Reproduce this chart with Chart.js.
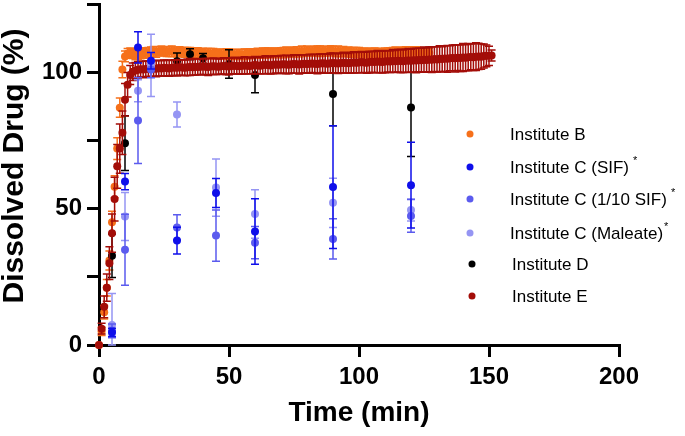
<!DOCTYPE html>
<html>
<head>
<meta charset="utf-8">
<script src="https://cdn.jsdelivr.net/npm/chart.js@4.4.1/dist/chart.umd.min.js"></script>
<style>
  html, body { margin: 0; padding: 0; background: #fff; }
  #wrap { width: 685px; height: 436px; }
</style>
</head>
<body>
<div id="wrap"><canvas id="chart" width="685" height="436"></canvas></div>
<script>
// Institute B - sampled every minute
const timeB = [
  0,1,2,3,4,5,6,7,8,9,10,11,12,13,14,15,16,17,18,19,
  20,21,22,23,24,25,26,27,28,29,30,31,32,33,34,35,36,37,38,39,
  40,41,42,43,44,45,46,47,48,49,50,51,52,53,54,55,56,57,58,59,
  60,61,62,63,64,65,66,67,68,69,70,71,72,73,74,75,76,77,78,79,
  80,81,82,83,84,85,86,87,88,89,90,91,92,93,94,95,96,97,98,99,
  100,101,102,103,104,105,106,107,108,109,110,111,112,113,114,115,116,117,118,119,
  120,121,122,123,124,125,126,127
];
const instB = [
  0,5,12,21,31,45,58,72,87,101,
  105.8,106.9,107.2,106.8,106.5,106.4,106.6,106.9,107.1,107.3,
  107.5,107.6,107.4,107.6,107.8,107.7,107.5,107.6,107.7,107.5,
  107.4,107.6,107.5,107.3,107.4,107.2,107.1,107.3,107.2,107.0,
  107.1,106.9,107.0,106.8,106.9,106.7,106.8,106.6,106.7,106.8,
  106.6,106.7,106.5,106.6,106.7,106.5,106.6,106.8,106.7,106.9,
  106.8,107.0,106.9,107.1,107.0,107.2,107.1,107.0,107.2,107.1,
  107.3,107.2,107.4,107.3,107.5,107.4,107.6,107.5,107.7,107.6,
  107.8,107.7,107.6,107.8,107.9,107.7,107.8,107.6,107.7,107.9,
  107.8,107.6,107.7,107.5,107.6,107.4,107.5,107.3,107.4,107.2,
  107.3,107.1,107.2,107.0,107.1,106.9,107.0,107.1,106.9,107.0,
  107.2,107.1,107.3,107.2,107.4,107.3,107.5,107.4,107.6,107.5,
  107.4,107.6,107.5,107.3,107.4,107.2,107.3,107.1
];
const errB = [
  0,1.5,2.5,3,3.5,4,4,4,3.5,3,
  2,1.8,1.7,1.8,1.9,1.8,1.7,1.8,1.9,1.8,
  1.7,1.8,1.9,1.7,1.8,1.6,1.7,1.8,1.9,1.7,
  1.8,1.7,1.6,1.8,1.7,1.9,1.8,1.7,1.8,1.6,
  1.7,1.8,1.7,1.9,1.8,1.7,1.6,1.8,1.7,1.8,
  1.9,1.7,1.8,1.6,1.7,1.8,1.9,1.7,1.8,1.7,
  1.6,1.8,1.7,1.8,1.9,1.7,1.8,1.6,1.7,1.8,
  1.7,1.9,1.8,1.7,1.6,1.8,1.7,1.8,1.9,1.7,
  1.8,1.6,1.7,1.8,1.7,1.9,1.8,1.7,1.6,1.8,
  1.7,1.8,1.9,1.7,1.8,1.6,1.7,1.8,1.7,1.9,
  1.8,1.7,1.6,1.8,1.7,1.8,1.9,1.7,1.8,1.6,
  1.7,1.8,1.7,1.9,1.8,1.7,1.6,1.8,1.7,1.8,
  1.9,1.7,1.8,1.6,1.7,1.8,1.7,1.6
];

// Institute C - three media, same sampling times
const timeC = [5, 10, 15, 20, 30, 45, 60, 90, 120];
const instC_SIF = [4.6, 59.9, 109.1, 104.2, 38.3, 55.7, 41.6, 57.9, 58.6];
const errC_SIF = [1.5, 3, 5.7, 3, 4.9, 5.3, 12, 22.5, 15.7];
const instC_SIF10 = [5.2, 34.9, 82.3, 101, 43.1, 40.1, 37.5, 38.9, 47.3];
const errC_SIF10 = [2.5, 13, 15.8, 3, 4.6, 9.4, 5.9, 7.4, 6];
const instC_Mal = [7.3, 47.1, 93.2, 102.5, 84.5, 57.7, 48, 52.1, 49.5];
const errC_Mal = [11.6, 8.8, 4, 11.4, 4.6, 10.5, 8.9, 9, 4];

// Institute D
const timeD = [5, 10, 30, 35, 40, 50, 60, 90, 120];
const instD = [32.7, 74, 104, 106.6, 105.1, 103, 99, 92, 87.1];
const errD = [8, 10, 3, 2, 1.8, 5.2, 6.5, 11.6, 18];

// Institute E - sampled every minute
const timeE = [
  0,1,2,3,4,5,6,7,8,9,10,11,12,13,14,15,16,17,18,19,
  20,21,22,23,24,25,26,27,28,29,30,31,32,33,34,35,36,37,38,39,
  40,41,42,43,44,45,46,47,48,49,50,51,52,53,54,55,56,57,58,59,
  60,61,62,63,64,65,66,67,68,69,70,71,72,73,74,75,76,77,78,79,
  80,81,82,83,84,85,86,87,88,89,90,91,92,93,94,95,96,97,98,99,
  100,101,102,103,104,105,106,107,108,109,110,111,112,113,114,115,116,117,118,119,
  120,121,122,123,124,125,126,127,128,129,130,131,132,133,134,135,136,137,138,139,
  140,141,142,143,144,145,146,147,148,149,150,151
];
const instE = [
  0,6,14,21,30,41,53.5,65.5,72,77.8,
  89.9,95.4,99.0,100.2,100.6,100.9,101.1,101.0,101.2,101.3,
  101.2,101.4,101.3,101.5,101.4,101.6,101.5,101.4,101.6,101.7,
  101.6,101.8,101.7,101.6,101.8,101.9,101.8,102.0,101.9,102.0,
  102.1,102.0,101.9,102.1,102.2,102.1,102.0,102.2,102.3,102.2,
  102.1,102.3,102.4,102.3,102.2,102.4,102.5,102.4,102.3,102.5,
  102.6,102.5,102.4,102.6,102.7,102.6,102.5,102.7,102.8,102.7,
  102.8,102.9,102.8,102.7,102.9,103.0,102.9,102.8,103.0,103.1,
  103.0,103.1,103.2,103.1,103.0,103.2,103.3,103.2,103.1,103.3,
  103.4,103.3,103.2,103.4,103.5,103.4,103.3,103.5,103.6,103.5,
  103.6,103.7,103.6,103.5,103.7,103.8,103.7,103.9,103.8,103.7,
  103.9,104.0,103.9,104.1,104.0,104.2,104.1,104.0,104.2,104.3,
  104.2,104.4,104.3,104.5,104.4,104.6,104.5,104.7,104.6,104.8,
  104.7,104.9,104.8,105.0,104.9,105.1,105.2,105.1,105.3,105.2,
  105.4,105.3,105.5,105.6,105.5,105.7,105.8,105.7,105.9,106.0,
  106.0,106.1
];
const errE = [
  0,2,4,5,6,7,8,8,9,8,
  6,4.5,3.5,3.2,3,2.9,2.8,3,2.9,2.8,
  2.9,2.8,3,2.9,2.8,2.9,3,2.9,2.8,2.9,
  3,2.9,2.8,2.9,3,3.1,2.9,3,2.9,2.8,
  2.9,3,3.1,2.9,3,2.9,2.8,2.9,3,3.1,
  3,2.9,3.1,3,2.9,3.1,3.2,3,2.9,3.1,
  3.2,3.1,3,3.2,3.3,3.1,3.2,3.3,3.1,3.2,
  3.3,3.2,3.4,3.3,3.2,3.4,3.3,3.5,3.4,3.3,
  3.4,3.5,3.3,3.4,3.6,3.5,3.4,3.6,3.5,3.7,
  3.6,3.5,3.7,3.6,3.8,3.7,3.6,3.8,3.9,3.7,
  3.8,3.9,3.7,3.9,4,3.8,3.9,4.1,3.9,4,
  4.1,3.9,4,4.2,4,4.1,4.3,4.1,4.2,4.4,
  4.2,4.3,4.5,4.3,4.4,4.6,4.4,4.5,4.7,4.5,
  4.6,4.8,4.5,4.7,4.9,4.6,4.8,5,4.7,4.9,
  5.1,4.8,5,4.7,4.9,5.1,4.8,4.6,4.4,4,
  3.5,2
];

const xTicks = [0, 50, 100, 150, 200];
const yLabelled = [0, 50, 100];

const legendLabels = ['Institute B', 'Institute C (SIF)', 'Institute C (1/10 SIF)', 'Institute C (Maleate)', 'Institute D', 'Institute E'];
const legendStars = ['', ' *', ' *', '*', '', ''];
const colors = ['#F6701A', '#0F0FEA', '#5B5BEE', '#9595F3', '#000000', '#A30D08'];

function pts(xs, ys) {
  return xs.map((x, i) => ({ x: x, y: ys[i] }));
}

function series(idx, xs, ys, errs, order) {
  return {
    label: legendLabels[idx],
    data: pts(xs, ys),
    errors: errs,
    backgroundColor: colors[idx],
    borderColor: colors[idx],
    pointRadius: 4,
    pointHoverRadius: 4,
    pointBorderWidth: 0,
    showLine: false,
    clip: false,
    order: order
  };
}

// draws the SD bars for a dataset right before its points
const errorBars = {
  id: 'errorBars',
  beforeDatasetDraw(chart, args) {
    const ds = chart.data.datasets[args.index];
    if (!ds.errors) return;
    const y = chart.scales.y;
    const ctx = chart.ctx;
    ctx.save();
    ctx.strokeStyle = ds.borderColor;
    ctx.lineWidth = 1.5;
    args.meta.data.forEach((p, i) => {
      const e = ds.errors[i];
      if (!e) return;
      const v = ds.data[i].y;
      const top = y.getPixelForValue(v + e);
      const bot = Math.min(y.getPixelForValue(v - e), y.bottom);
      ctx.beginPath();
      ctx.moveTo(p.x, top); ctx.lineTo(p.x, bot);
      ctx.moveTo(p.x - 4, top); ctx.lineTo(p.x + 4, top);
      ctx.moveTo(p.x - 4, bot); ctx.lineTo(p.x + 4, bot);
      ctx.stroke();
    });
    ctx.restore();
  }
};

// legend sits inside the plot on the right; y title drawn a bit above centre like the original
const sideLegend = {
  id: 'sideLegend',
  afterDraw(chart) {
    const ctx = chart.ctx;
    const rowsY = [134, 167, 199, 233, 264, 296];
    ctx.save();
    ctx.textBaseline = 'middle';
    legendLabels.forEach((lab, i) => {
      const shift = i >= 4 ? 2 : 0;
      ctx.fillStyle = colors[i];
      ctx.beginPath();
      ctx.arc(470 + shift, rowsY[i], 3.5, 0, Math.PI * 2);
      ctx.fill();
      ctx.fillStyle = '#000';
      ctx.font = '17px "Liberation Sans", Arial, sans-serif';
      ctx.fillText(lab, 510 + shift, rowsY[i] + 1);
      if (legendStars[i]) {
        const w = ctx.measureText(lab).width;
        ctx.font = '11px "Liberation Sans", Arial, sans-serif';
        ctx.fillText(legendStars[i], 510 + w + 1, rowsY[i] - 6);
      }
    });

    ctx.translate(15, 166);
    ctx.rotate(-Math.PI / 2);
    ctx.textAlign = 'center';
    ctx.font = 'bold 30px "Liberation Sans", Arial, sans-serif';
    ctx.fillText('Dissolved Drug (%)', 0, 0);
    ctx.restore();
  }
};

const axisFont = { family: '"Liberation Sans", Arial, sans-serif', weight: 'bold' };

new Chart(document.getElementById('chart'), {
  type: 'scatter',
  data: {
    datasets: [
      series(0, timeB, instB, errB, 6),
      series(1, timeC, instC_SIF, errC_SIF, 1),
      series(2, timeC, instC_SIF10, errC_SIF10, 2),
      series(3, timeC, instC_Mal, errC_Mal, 3),
      series(4, timeD, instD, errD, 5),
      series(5, timeE, instE, errE, 4)
    ]
  },
  options: {
    responsive: false,
    animation: false,
    events: [],
    layout: { padding: { left: 0, top: 2, right: 66, bottom: 0 } },
    plugins: {
      legend: { display: false },
      tooltip: { enabled: false }
    },
    scales: {
      x: {
        type: 'linear',
        min: 0,
        max: 200,
        afterBuildTicks(scale) {
          scale.ticks = xTicks.map(v => ({ value: v }));
        },
        afterFit(scale) {
          scale.height = 91;
          scale.paddingLeft = 0;
          scale.paddingRight = 0;
        },
        border: { display: true, width: 3, color: '#000' },
        grid: { drawOnChartArea: false, drawTicks: true, tickLength: 12, lineWidth: 3, color: '#000' },
        ticks: { color: '#000', padding: 6, maxRotation: 0, font: Object.assign({ size: 24 }, axisFont) },
        title: {
          display: true,
          text: 'Time (min)',
          color: '#000',
          padding: { top: 0, bottom: 9 },
          font: Object.assign({ size: 28, lineHeight: 1 }, axisFont)
        }
      },
      y: {
        type: 'linear',
        min: 0,
        max: 125,
        ticks: {
          stepSize: 25,
          color: '#000',
          padding: 5,
          font: Object.assign({ size: 24 }, axisFont),
          callback: v => (yLabelled.includes(v) ? String(v) : '')
        },
        afterFit(scale) {
          scale.width = 99;
          scale.paddingTop = 0;
          scale.paddingBottom = 0;
        },
        border: { display: true, width: 3, color: '#000' },
        grid: { drawOnChartArea: false, drawTicks: true, tickLength: 12, lineWidth: 3, color: '#000' },
        title: { display: false }
      }
    }
  },
  plugins: [errorBars, sideLegend]
});
</script>
</body>
</html>
